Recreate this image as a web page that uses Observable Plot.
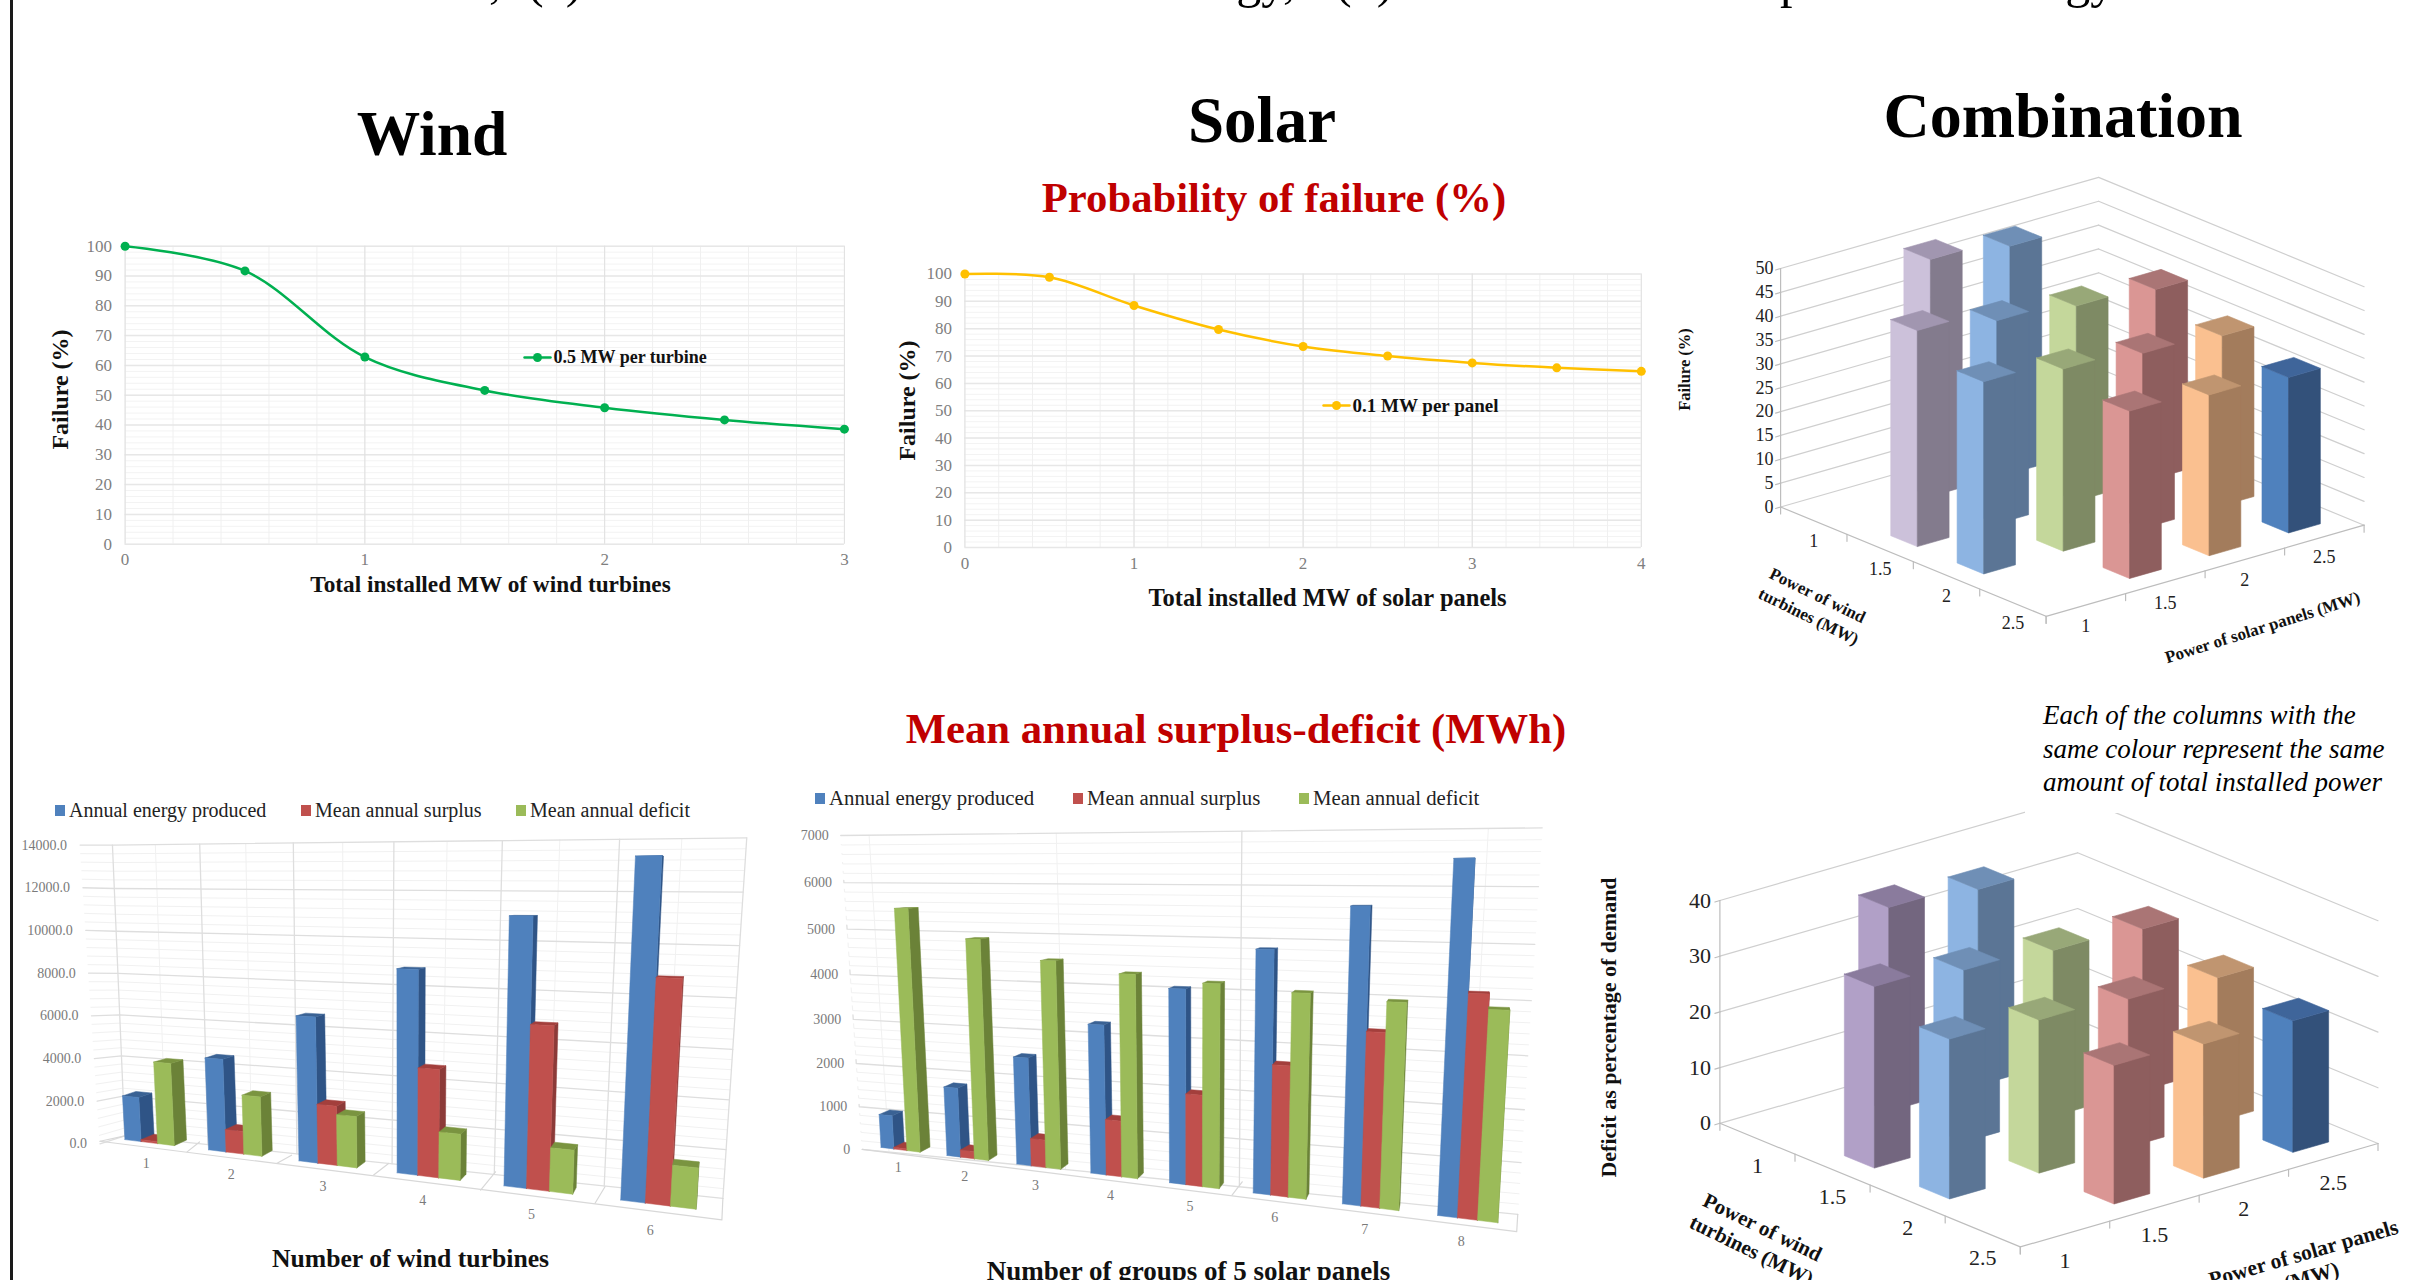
<!DOCTYPE html>
<html><head><meta charset="utf-8">
<script src="https://cdn.jsdelivr.net/npm/d3@7"></script>
<script src="https://cdn.jsdelivr.net/npm/@observablehq/plot@0.6"></script>
<style>
html,body{margin:0;padding:0;background:#fff}
#page{position:relative;width:2411px;height:1280px;overflow:hidden;background:#fff;font-family:"Liberation Serif",serif}
#page .t{position:absolute;white-space:nowrap;line-height:0}
#page svg{position:absolute;background:transparent;overflow:visible}
</style></head><body><div id="page"></div>
<script>
// ---------- data ----------
const windMW = [0,0.5,1,1.5,2,2.5,3];
const windFail = [100,91.7,62.8,51.6,45.8,41.7,38.6];
const solarMW = [0,0.5,1,1.5,2,2.5,3,3.5,4];
const solarFail = [100,98.8,88.5,79.7,73.5,70,67.5,65.7,64.4];

const windGroups = [1,2,3,4,5,6];
const windEnergy = [2250,4500,6750,9000,11250,13500];
const windSurplus = [100,1100,2760,4780,6910,8960];
const windDeficit = [4100,2860,2370,2050,1860,1670];
const windTicks = [0,2000,4000,6000,8000,10000,12000,14000];

const solarGroups = [1,2,3,4,5,6,7,8];
const solarEnergy = [812,1625,2437,3250,4062,4875,5687,6500];
const solarSurplus = [40,170,625,1220,1920,2640,3380,4150];
const solarDeficit = [5680,5010,4570,4330,4190,4060,3950,3880];
const solarTicks = [0,1000,2000,3000,4000,5000,6000,7000];

const comboLabels = ["1","1.5","2","2.5"];
const comboWind  = [1.5,1,  2,1.5,1,  2,1.5,  2.5,2,1.5,  2.5,2,  2.5];
const comboSolar = [1,1.5,  1,1.5,2,  1.5,2,  1.5,2,2.5,  2,2.5,  2.5];
const comboFailure = [45.3,49.7, 40.3,42.6,47.7, 38.2,40.9, 35.1,36.7,39.6, 33.7,35.6, 32.6];
const comboDeficit = [32.6,36.6, 28.7,30.9,35.2, 27.5,29.8, 24.9,26.6,29.0, 24.1,25.8, 23.6];
const failureTicks = [0,5,10,15,20,25,30,35,40,45,50];
const deficitTicks = [0,10,20,30,40];

const seriesNames = ["Annual energy produced","Mean annual surplus","Mean annual deficit"];
const seriesFront = ["#4f81bd","#c0504d","#9bbb59"];
const seriesSide  = ["#2f5486","#8c3a38","#6b8238"];
const seriesTop   = ["#3a6294","#a33f3c","#7a9440"];

const totalKeys = [2.5,3,3.5,4,4.5,5];
const totalFront = ["#ccc1da","#8db4e2","#c4d79b","#da9694","#fac090","#4f81bd"];
const totalSide  = ["#837b8d","#5b7595","#7e8a64","#8e5e5e","#a37c5c","#33517a"];
const totalTop   = ["#a196b0","#6f8fb6","#98a878","#aa7575","#c09570","#3f659a"];
const deficitFront = ["#b1a0c7","#8db4e2","#c4d79b","#da9694","#fac090","#4f81bd"];
const deficitSide  = ["#73667f","#5b7595","#7e8a64","#8e5e5e","#a37c5c","#33517a"];
const deficitTop   = ["#8a7b9d","#6f8fb6","#98a878","#aa7575","#c09570","#3f659a"];

// ---------- helpers ----------
const page = document.getElementById("page");
const SERIF = "Liberation Serif";
function label(text,x,base,fs,o={}){
  const d=document.createElement("div");d.className="t";d.textContent=text;
  d.style.left=x+"px";d.style.top=(base-0.3375*fs)+"px";d.style.fontSize=fs+"px";
  d.style.fontWeight=o.weight||"normal";d.style.fontStyle=o.style||"normal";d.style.color=o.color||"#000";
  if(o.center)d.style.transform="translateX(-50%)";
  if(o.spacing)d.style.letterSpacing=o.spacing;
  page.appendChild(d);
}
function box(x,y,w,h,c){const d=document.createElement("div");d.style.cssText=`position:absolute;left:${x}px;top:${y}px;width:${w}px;height:${h}px;background:${c}`;page.appendChild(d);}
function place(svg,x,y){svg.style.left=x+"px";svg.style.top=y+"px";page.appendChild(svg);}
function canvas(ox,oy,W,H,marks){
  const svg=Plot.plot({width:W,height:H,margin:0,
    x:{domain:[ox,ox+W],range:[0,W],axis:null},y:{domain:[oy,oy+H],range:[0,H],axis:null},
    color:{type:"identity"},marks});
  place(svg,ox,oy);
}
function quad(p0,p1,p2,p3){ // unit square -> quadrilateral, (0,0),(1,0),(1,1),(0,1)
  const [x0,y0]=p0,[x1,y1]=p1,[x2,y2]=p2,[x3,y3]=p3;
  const dx1=x1-x2,dx2=x3-x2,sx=x0-x1+x2-x3,dy1=y1-y2,dy2=y3-y2,sy=y0-y1+y2-y3;
  const det=dx1*dy2-dx2*dy1,g=(sx*dy2-dx2*sy)/det,h=(dx1*sy-sx*dy1)/det;
  const a=x1-x0+g*x1,b=x3-x0+h*x3,d=y1-y0+g*y1,e=y3-y0+h*y3;
  return (s,t)=>{const w=g*s+h*t+1;return [(a*s+b*t+x0)/w,(d*s+e*t+y0)/w];};
}
const mix=(a,b,f)=>[a[0]+(b[0]-a[0])*f,a[1]+(b[1]-a[1])*f];

// ---------- page text ----------
box(10,0,3,1280,"#1a1a1a");
label(",",489,-3,50);
label("(a)",527,-3,50);
label("energy,",1151,-3,50);
label("(b)",1335,-3,50);
label("p",1780,-3,50);
label("energy",1980,-3,50);
label("Wind",432,155,63.5,{weight:"bold",center:true});
label("Solar",1262,142,65,{weight:"bold",center:true});
label("Combination",2063,138,64,{weight:"bold",center:true});
label("Probability of failure (%)",1274,212,42.7,{weight:"bold",center:true,color:"#c00000"});
label("Mean annual surplus-deficit (MWh)",1236,743,42.7,{weight:"bold",center:true,color:"#c00000"});

// ---------- line panels ----------
function linePanel(o){
  const {ox,oy,W,H,x0,x1,y100,y0,xs,ys,color,xMax,xTicks,xMinor}=o;
  const X=p=>(p-x0)/(x1-x0)*xMax, Y=p=>(y0-p)/(y0-y100)*100;
  const tick={fontFamily:SERIF,fontSize:17,color:"#7f7f7f",tickSize:0,label:null};
  const bold={fontFamily:SERIF,fontWeight:"bold",fill:"#111"};
  const svg=Plot.plot({width:W,height:H,marginLeft:x0-ox,marginRight:ox+W-x1,marginTop:y100-oy,marginBottom:oy+H-y0,
    x:{domain:[0,xMax],axis:null},y:{domain:[0,100],axis:null},
    marks:[
      Plot.ruleY(d3.range(0,101,2),{stroke:"#f3f3f3"}),
      Plot.ruleX(xMinor,{stroke:"#f0f0f0"}),
      Plot.ruleY(d3.range(0,101,10),{stroke:"#e7e7e7",strokeWidth:1.5}),
      Plot.ruleX(xTicks,{stroke:"#e0e0e0"}),
      Plot.axisX({ticks:xTicks,tickFormat:d=>String(d),tickPadding:9,...tick}),
      Plot.axisY({ticks:d3.range(0,101,10),tickFormat:d=>String(d),tickPadding:13,...tick}),
      Plot.line(xs.map((x,i)=>({x,y:ys[i]})),{x:"x",y:"y",stroke:color,strokeWidth:2.5,curve:"catmull-rom"}),
      Plot.dot(xs.map((x,i)=>({x,y:ys[i]})),{x:"x",y:"y",fill:color,r:4.5}),
      Plot.line([o.legX0,o.legX1].map(p=>({x:X(p),y:Y(o.legY)})),{x:"x",y:"y",stroke:color,strokeWidth:2.5}),
      Plot.dot([{x:X((o.legX0+o.legX1)/2),y:Y(o.legY)}],{x:"x",y:"y",fill:color,r:4.5}),
      Plot.text([o.legend],{x:X(o.legX1+3),y:Y(o.legY),textAnchor:"start",fontSize:o.legFs,...bold}),
      Plot.text([o.xTitle],{x:X(o.xTitleX),y:Y(o.xTitleY),fontSize:o.xTitleFs,...bold}),
      Plot.text(["Failure (%)"],{x:X(o.yTitleX),y:Y(o.yTitleY),rotate:-90,fontSize:24,...bold})
    ]});
  place(svg,ox,oy);
}
linePanel({ox:30,oy:220,W:850,H:400,x0:124.6,x1:843.9,y100:245.7,y0:543.7,xs:windMW,ys:windFail,color:"#00b050",xMax:3,
  xTicks:[0,1,2,3],xMinor:d3.range(0,3.01,0.2),legX0:524,legX1:550,legY:357,legend:"0.5 MW per turbine",legFs:18,
  xTitle:"Total installed MW of wind turbines",xTitleFs:23.3,xTitleX:490,xTitleY:584,yTitleX:60,yTitleY:389});
linePanel({ox:890,oy:250,W:780,H:380,x0:964.4,x1:1640.8,y100:273.5,y0:547,xs:solarMW,ys:solarFail,color:"#ffc000",xMax:4,
  xTicks:[0,1,2,3,4],xMinor:d3.range(0,4.01,0.2),legX0:1323,legX1:1349,legY:405,legend:"0.1 MW per panel",legFs:19,
  xTitle:"Total installed MW of solar panels",xTitleFs:24.5,xTitleX:1327,xTitleY:598,yTitleX:907,yTitleY:400});

// ---------- 3-D column panels (combination) ----------
function comboPanel(o){
  const {L,F,R,zk,ticks,vals,front,side,top,ox,oy,W,H}=o;
  const u=[(F[0]-L[0])/4,(F[1]-L[1])/4],v=[(R[0]-F[0])/4,(R[1]-F[1])/4];
  const ground=(a,b)=>[L[0]+a*u[0]+b*v[0],L[1]+a*u[1]+b*v[1]];
  const pt=(a,b,z)=>{const p=ground(a,b);return [p[0],p[1]-z*zk];};
  const Bk=[L[0]+R[0]-F[0],L[1]+R[1]-F[1]];
  const grid=[];
  ticks.forEach(z=>{[[L,Bk],[Bk,R]].forEach(([a,b],n)=>{
    grid.push({id:`w${z}-${n}a`,x:a[0],y:a[1]-z*zk});grid.push({id:`w${z}-${n}a`,x:b[0],y:b[1]-z*zk});});});
  const axis=[{id:"f1",x:L[0],y:L[1]},{id:"f1",x:F[0],y:F[1]},{id:"f1",x:R[0],y:R[1]},
              {id:"v",x:L[0],y:L[1]},{id:"v",x:L[0],y:L[1]-ticks[ticks.length-1]*zk}];
  ticks.forEach(z=>{axis.push({id:"t"+z,x:L[0]-5,y:L[1]-z*zk+1.5},{id:"t"+z,x:L[0],y:L[1]-z*zk});});
  [0,1,2,3,4].forEach(n=>{const a=ground(n,0),b=ground(4,n);
    axis.push({id:"ta"+n,x:a[0],y:a[1]},{id:"ta"+n,x:a[0],y:a[1]+7});
    axis.push({id:"tb"+n,x:b[0],y:b[1]},{id:"tb"+n,x:b[0],y:b[1]+7});});
  const polys=[];let pid=0;
  const add=(pts,c)=>{pid++;[...pts,pts[0]].forEach(p=>polys.push({id:pid,x:p[0],y:p[1],c}));};
  const w=0.2;
  d3.range(vals.length)
    .map(n=>({i:(comboWind[n]-1)*2,j:(comboSolar[n]-1)*2,z:vals[n],k:totalKeys.indexOf(comboWind[n]+comboSolar[n])}))
    .sort((a,b)=>(a.i-a.j)-(b.i-b.j))
    .forEach(({i,j,z,k})=>{
      const a0=i+.5-w,a1=i+.5+w,b0=j+.5-w,b1=j+.5+w;
      add([pt(a0,b0,z),pt(a1,b0,z),pt(a1,b0,0),pt(a0,b0,0)],front[k]);
      add([pt(a1,b0,z),pt(a1,b1,z),pt(a1,b1,0),pt(a1,b0,0)],side[k]);
      add([pt(a0,b0,z),pt(a1,b0,z),pt(a1,b1,z),pt(a0,b1,z)],top[k]);
    });
  const tf={fontFamily:SERIF,fill:"#222"};
  const b={fontFamily:SERIF,fontWeight:"bold",fill:"#111"};
  const catA=comboLabels.map((t,n)=>{const p=ground(n+.5,0);return {t,x:p[0],y:p[1]+o.catDy};});
  const catB=comboLabels.map((t,n)=>{const p=ground(4,n+.5);return {t,x:p[0],y:p[1]+o.catDy};});
  canvas(ox,oy,W,H,[
    Plot.line(grid,{x:"x",y:"y",z:"id",stroke:"#cfcfcf",strokeWidth:1.2}),
    Plot.line(axis,{x:"x",y:"y",z:"id",stroke:"#bdbdbd",strokeWidth:1.2}),
    Plot.line(polys,{x:"x",y:"y",z:"id",fill:d=>d.c,stroke:d=>d.c,strokeWidth:.6}),
    Plot.text(ticks,{x:L[0]-o.tickGap,y:z=>L[1]-z*zk,text:d=>String(d),textAnchor:"end",fontSize:o.fs,...tf}),
    Plot.text(catA,{x:"x",y:"y",text:"t",fontSize:o.fs,...tf}),
    Plot.text(catB,{x:"x",y:"y",text:"t",fontSize:o.fs,...tf}),
    ...o.titles.map(t=>Plot.text([t.s],{x:t.x,y:t.y,rotate:t.r,fontSize:t.fs,...b}))
  ]);
}
comboPanel({ox:1660,oy:170,W:751,H:500,L:[1780.1,506.5],F:[2045.6,615.8],R:[2363.6,524.7],zk:4.77,ticks:failureTicks,vals:comboFailure,
  front:totalFront,side:totalSide,top:totalTop,fs:18,catDy:21,tickGap:7,
  titles:[{s:"Failure (%)",x:1684,y:369,r:-90,fs:16.5},
    {s:"Power of wind",x:1817,y:595,r:26,fs:17},{s:"turbines (MW)",x:1808,y:616,r:26,fs:17},
    {s:"Power of solar panels (MW)",x:2262,y:627,r:-17.5,fs:17}]});

// white panel behind the note, cuts the top grid line of the lower chart
comboPanel({ox:1590,oy:700,W:821,H:580,L:[1719.4,1122.8],F:[2019.8,1246.4],R:[2377.5,1143],zk:5.57,ticks:deficitTicks,vals:comboDeficit,
  front:deficitFront,side:deficitSide,top:deficitTop,fs:22,catDy:27,tickGap:9,
  titles:[{s:"Deficit as percentage of demand",x:1608,y:1027,r:-90,fs:22},
    {s:"Power of wind",x:1762,y:1227,r:26,fs:21},{s:"turbines (MW)",x:1751,y:1250,r:26,fs:21},
    {s:"Power of solar panels",x:2303,y:1253,r:-16,fs:21.5},{s:"(MW)",x:2311,y:1276,r:-16,fs:21.5}]});
box(2025,680,386,133,"#fff");
label("Each of the columns with the",2043,724,27,{style:"italic"});
label("same colour represent the same",2043,758,27,{style:"italic"});
label("amount of total installed power",2043,791,27,{style:"italic"});

// ---------- 3-D grouped bars ----------
function barPanel(o){
  const P=(x,y)=>[o.zx+x/o.sx,o.zy+y/o.sy];
  const n=o.groups.length,vMax=o.ticks[o.ticks.length-1];
  const bar=quad(P(...o.bar[0]),P(...o.bar[1]),P(...o.bar[2]),P(...o.bar[3]));
  const bp=(s,val)=>{const t=(s-0.2)/(n-0.4);return bar(t+o.warp*4*t*(1-t),val/vMax);};
  const wall=quad(P(...o.wall[0]),P(...o.wall[1]),P(...o.wall[2]),P(...o.wall[3]));
  const wp=(s,val)=>wall(s/n,val/vMax);
  const left=val=>mix(P(...o.leftEnd[0]),P(...o.leftEnd[1]),val/vMax);
  const VP=P(...o.vp);
  const back=p=>mix(p,VP,o.depth);
  const minor=[],major=[],vert=[];
  const push=(arr,id,pts)=>pts.forEach(p=>arr.push({id,x:p[0],y:p[1]}));
  d3.range(0,vMax+1e-6,vMax/35).forEach((val,i)=>{
    push(i%5===0?major:minor,"h"+i,[left(val),wp(0,val),wp(n,val)]);
  });
  o.majorV.forEach((s,i)=>push(major,"vM"+i,[wp(s,0),wp(s,vMax)]));
  o.minorV.forEach((s,i)=>push(minor,"vm"+i,[wp(s,0),wp(s,vMax)]));
  o.floor.forEach((l,i)=>push(vert,"fl"+i,l.map(p=>P(...p))));
  const polys=[];let pid=0;
  const add=(pts,c)=>{pid++;[...pts,pts[0]].forEach(p=>polys.push({id:pid,x:p[0],y:p[1],c}));};
  o.groups.forEach((g,gi)=>{
    [o.energy,o.surplus,o.deficit].forEach((vals,m)=>{
      const a=gi+.2+.2*m,b=a+.2,z=vals[gi];
      const a0=bp(a,0),b0=bp(b,0),a1=bp(a,z),b1=bp(b,z);
      add([b0,back(b0),back(b1),b1],seriesSide[m]);
      add([a1,b1,back(b1),back(a1)],seriesTop[m]);
      add([a0,b0,b1,a1],seriesFront[m]);
    });
  });
  const tk={fontFamily:SERIF,fill:"#7a7a7a",fontSize:o.fs};
  const lab=o.ticks.map(v=>{const p=o.ticksFromLeft?left(v):wp(0,v);return {t:o.fmt(v),x:p[0]-o.tickGap,y:p[1]};});
  const cats=o.groups.map((g,gi)=>{const p=bp(gi+o.catS,o.catV);return {t:String(g),x:p[0],y:p[1]};});
  canvas(o.ox,o.oy,o.W,o.H,[
    Plot.line(minor,{x:"x",y:"y",z:"id",stroke:"#f1f1f1",strokeWidth:1}),
    Plot.line(major,{x:"x",y:"y",z:"id",stroke:"#dedede",strokeWidth:1.3}),
    Plot.line(vert,{x:"x",y:"y",z:"id",stroke:"#d8d8d8",strokeWidth:1.2}),
    Plot.line(polys,{x:"x",y:"y",z:"id",fill:d=>d.c,stroke:d=>d.c,strokeWidth:.5}),
    Plot.text(lab,{x:"x",y:"y",text:"t",textAnchor:"end",...tk}),
    Plot.text(cats,{x:"x",y:"y",text:"t",...tk}),
    Plot.text([o.xTitle],{x:o.xTitleX,y:o.xTitleY,fontFamily:SERIF,fontWeight:"bold",fontSize:o.xTitleFs,fill:"#111"})
  ]);
  seriesNames.forEach((s,i)=>{
    box(o.leg[i],o.legY,10,11,seriesFront[i]);
    label(s,o.leg[i]+14,o.legY+12,o.legFs,{color:"#222"});
  });
}
barPanel({ox:15,oy:830,W:745,H:450,zx:0,zy:760,sx:2.01,sy:3.015,groups:windGroups,energy:windEnergy,surplus:windSurplus,deficit:windDeficit,ticks:windTicks,
  bar:[[250,1143],[1398,1353],[1441,241],[219,285]],warp:.005,
  wall:[[250,1132],[1452,1320],[1500,233],[225,255]],
  leftEnd:[[200,1156],[160,255]],vp:[1470,400],depth:.022,
  majorV:[0,1,2,3,4,5,6],minorV:[.5,1.5,2.5,3.5,4.5,5.5],
  floor:[[[200,1148],[1450,1385],[1452,1320]],[[250,1132],[200,1148]],[[400,1150],[375,1180]],[[585,1190],[555,1215]],[[780,1215],[750,1250]],[[995,1240],[965,1295]],[[1215,1285],[1195,1335]]],
  fs:14,fmt:v=>v.toFixed(1),tickGap:13,ticksFromLeft:true,catS:.45,catV:-1100,
  xTitle:"Number of wind turbines",xTitleX:410,xTitleY:1258,xTitleFs:25.7,
  leg:[55,301,516],legY:805,legFs:20});
barPanel({ox:790,oy:810,W:800,H:470,zx:780,zy:680,sx:1.96,sy:2.613,groups:solarGroups,energy:solarEnergy,surplus:solarSurplus,deficit:solarDeficit,ticks:solarTicks,
  bar:[[197,1220],[1406,1417],[1450,382],[164,443]],warp:.012,
  wall:[[160,1225],[1445,1395],[1493,385],[118,405]],
  leftEnd:[[160,1225],[118,405]],vp:[1350,470],depth:.018,
  majorV:[5],minorV:[.4,2.85,7.5],
  floor:[[[160,1225],[1443,1440],[1445,1395]],[[885,1345],[905,1310]]],
  fs:14,fmt:v=>String(v),tickGap:12,ticksFromLeft:false,catS:.45,catV:-450,
  xTitle:"Number of groups of 5 solar panels",xTitleX:1188,xTitleY:1271,xTitleFs:27,
  leg:[815,1073,1299],legY:793,legFs:20.8});
</script></body></html>
